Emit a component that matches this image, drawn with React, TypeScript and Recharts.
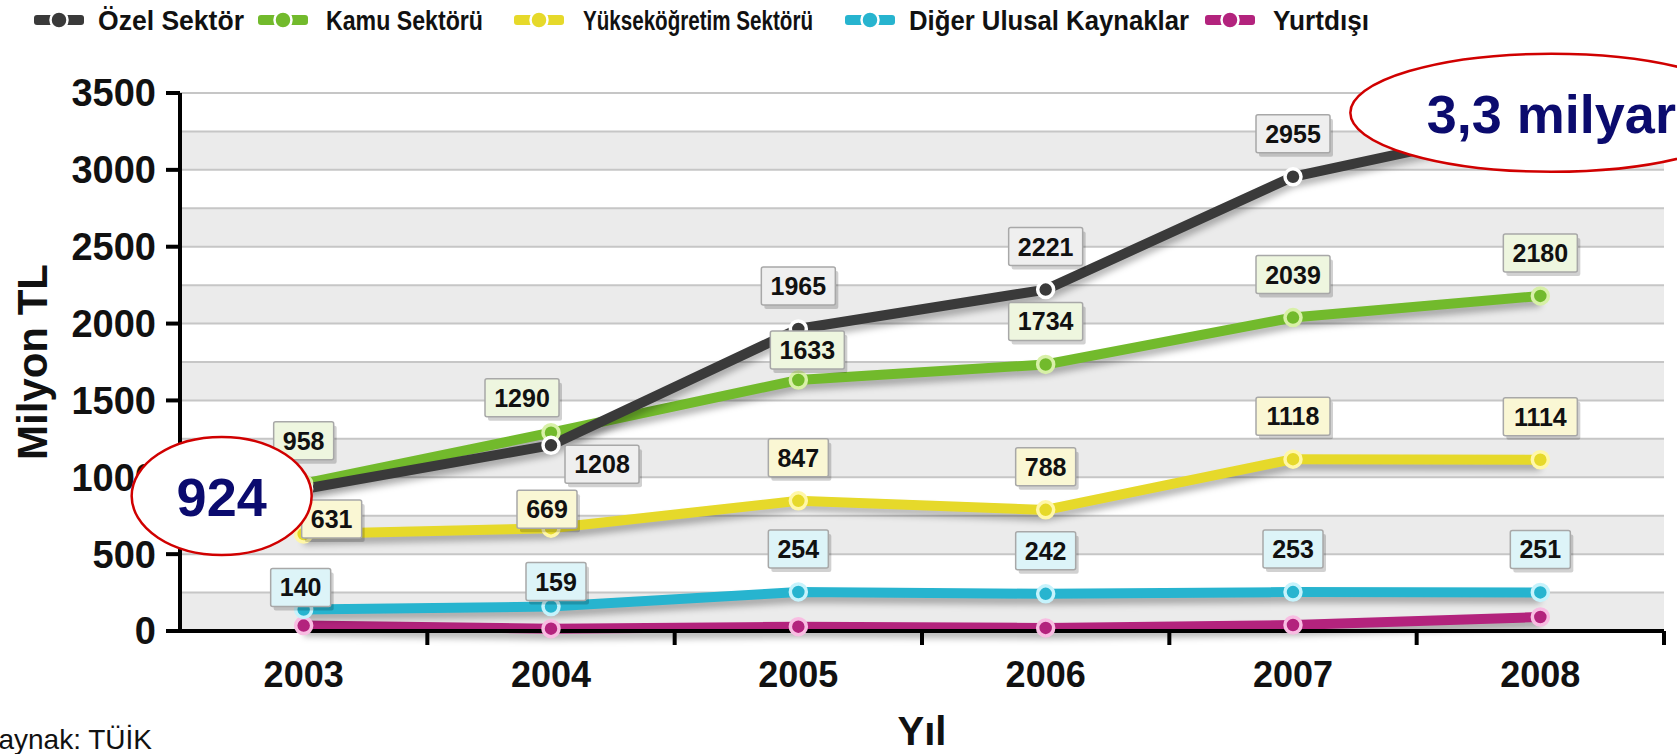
import React from 'react';
import { LineChart, Line, XAxis, YAxis, CartesianGrid, LabelList, Legend } from 'recharts';

// ---------- data ----------
const years = ['2003', '2004', '2005', '2006', '2007', '2008'];
const ozelSektor = [924, 1208, 1965, 2221, 2955, 3300];
const kamuSektoru = [958, 1290, 1633, 1734, 2039, 2180];
const yuksekogretim = [631, 669, 847, 788, 1118, 1114];
const digerUlusal = [140, 159, 254, 242, 253, 251];
const yurtdisi = [35, 15, 28, 20, 39, 91];
const yTicks = [0, 500, 1000, 1500, 2000, 2500, 3000, 3500];
const gridValues = [0, 250, 500, 750, 1000, 1250, 1500, 1750, 2000, 2250, 2500, 2750, 3000, 3250, 3500];
const seriesNames = ['Özel Sektör', 'Kamu Sektörü', 'Yükseköğretim Sektörü', 'Diğer Ulusal Kaynaklar', 'Yurtdışı'];
const ozelCallouts = ['924', '', '', '', '', '3,3 milyar'];
const sourceNote = 'Kaynak: TÜİK';
const yAxisTitle = 'Milyon TL';
const xAxisTitle = 'Yıl';

// ---------- styling / layout ----------
const FONT = '"Liberation Sans", Arial, Helvetica, sans-serif';

type Series = { key: string; name: string; color: string; ring: string; boxFill: string | null };
const series: Series[] = [
  { key: 'ozel', name: seriesNames[0], color: '#3a3a3a', ring: '#ffffff', boxFill: '#efefef' },
  { key: 'kamu', name: seriesNames[1], color: '#72ba2c', ring: '#d8f0a8', boxFill: '#eef6df' },
  { key: 'yuksek', name: seriesNames[2], color: '#e6d92a', ring: '#fff7a8', boxFill: '#faf7d4' },
  { key: 'diger', name: seriesNames[3], color: '#27b4cf', ring: '#c6f3fc', boxFill: '#ddf4f8' },
  { key: 'yurtdisi', name: seriesNames[4], color: '#b3237d', ring: '#f8bde2', boxFill: null },
];
const drawOrder = ['yurtdisi', 'diger', 'yuksek', 'kamu', 'ozel'];

// label placement tweaks (relative to point), default above the point
const labelShift: Record<string, Record<number, [number, number]>> = {
  ozel: { 1: [51, 19] },
  kamu: { 1: [-29, -35], 2: [9, -30] },
  yuksek: { 0: [28, -15], 1: [-4, -19] },
  diger: { 0: [-3, -22], 1: [5, -25] },
};
const calloutGeom: Record<number, [number, number, number, number]> = {
  0: [-82, 7, 90, 59],
  5: [11, -11, 201, 59],
};

const legendIconX = [59, 283, 539, 870, 1230];
const legendTextX = [98, 326, 583, 909, 1273];
const legendTextW = [146, 157, 230, 280, 96];

function ValueBox({ cx, cy, text, fill }: { cx: number; cy: number; text: string; fill: string }) {
  const w = text.length * 14 + 18;
  const h = 38;
  return (
    <g>
      <rect x={cx - w / 2 + 3} y={cy - h / 2 + 4} width={w} height={h} rx={2} fill="#000" opacity={0.18} />
      <rect x={cx - w / 2} y={cy - h / 2} width={w} height={h} rx={2} fill={fill} stroke="#a8a8a8" strokeWidth={1.5} />
      <text x={cx} y={cy + 9} textAnchor="middle" fontSize={25} fontWeight="bold" fill="#111" fontFamily={FONT}>
        {text}
      </text>
    </g>
  );
}

function Callout({ cx, cy, rx, ry, text }: { cx: number; cy: number; rx: number; ry: number; text: string }) {
  return (
    <g>
      <ellipse cx={cx} cy={cy} rx={rx} ry={ry} fill="#ffffff" stroke="#d00000" strokeWidth={2.5} />
      <text x={cx} y={cy + 20} textAnchor="middle" fontSize={54} fontWeight="bold" fill="#0b0b6e" fontFamily={FONT}>
        {text}
      </text>
    </g>
  );
}

const makeLabel = (s: Series) => (props: any) => {
  const index: number = props.index;
  const px = props.x ?? props.viewBox?.x;
  const py = props.y ?? props.viewBox?.y;
  if (px == null || py == null) return null;
  if (s.key === 'ozel' && ozelCallouts[index]) {
    const g = calloutGeom[index] || [0, 0, 90, 59];
    return <Callout cx={px + g[0]} cy={py + g[1]} rx={g[2]} ry={g[3]} text={ozelCallouts[index]} />;
  }
  if (!s.boxFill) return null;
  const shift = (labelShift[s.key] && labelShift[s.key][index]) || [0, -43];
  return <ValueBox cx={px + shift[0]} cy={py + shift[1]} text={String(props.value)} fill={s.boxFill} />;
};

function XTick(props: any) {
  const { x, y, payload } = props;
  const half = (payload && payload.offset) || (props.width ? props.width / years.length / 2 : 123.7);
  return (
    <g>
      <line x1={x + half} x2={x + half} y1={y - 29} y2={y - 15} stroke="#000" strokeWidth={4} />
      <text x={x} y={y + 27} textAnchor="middle" fontSize={36} fontWeight="bold" fill="#111" fontFamily={FONT}>
        {payload.value}
      </text>
    </g>
  );
}

function LegendSvg() {
  return (
    <svg width={1677} height={42} style={{ display: 'block' }}>
      {series.map((s, i) => (
        <g key={s.key}>
          <rect x={legendIconX[i] - 25} y={15} width={50} height={10} rx={3} fill={s.color} />
          <circle cx={legendIconX[i]} cy={20} r={8.5} fill={s.color} stroke="#ffffff" strokeWidth={2.5} />
          <text
            x={legendTextX[i]}
            y={30}
            fontSize={27}
            fontWeight="bold"
            fill="#111"
            fontFamily={FONT}
            textLength={legendTextW[i]}
            lengthAdjust="spacingAndGlyphs"
          >
            {s.name}
          </text>
        </g>
      ))}
    </svg>
  );
}

export default function App() {
  const data = years.map((year, i) => ({
    year,
    ozel: ozelSektor[i],
    kamu: kamuSektoru[i],
    yuksek: yuksekogretim[i],
    diger: digerUlusal[i],
    yurtdisi: yurtdisi[i],
  }));
  const byKey = (k: string) => series.find((s) => s.key === k) as Series;

  return (
    <div style={{ position: 'absolute', left: 0, top: 0, width: 1677, height: 754, background: '#fff', overflow: 'hidden' }}>
      <style>{`.shadowed-line .recharts-line-curve { filter: drop-shadow(0px 6px 3px rgba(0,0,0,0.28)); }`}</style>
      <LineChart width={1677} height={754} data={data} margin={{ top: 93, right: 13, bottom: 3, left: 0 }}>
        <CartesianGrid
          vertical={false}
          horizontalValues={gridValues}
          stroke="#c6c6c6"
          strokeWidth={2}
          horizontalFill={['#ffffff', '#ebebeb']}
          fillOpacity={1}
        />
        <XAxis
          dataKey="year"
          scale="band"
          interval={0}
          height={120}
          tickSize={14}
          tickMargin={15}
          tickLine={false}
          axisLine={{ stroke: '#000', strokeWidth: 4 }}
          tick={<XTick />}
          label={{
            value: xAxisTitle,
            position: 'insideBottom',
            offset: 6,
            style: { fontSize: 40, fontWeight: 'bold', fill: '#111', fontFamily: FONT },
          }}
        />
        <YAxis
          width={180}
          domain={[0, 3500]}
          ticks={yTicks}
          interval={0}
          tickSize={14}
          tickMargin={10}
          tickLine={{ stroke: '#000', strokeWidth: 4 }}
          axisLine={{ stroke: '#000', strokeWidth: 4 }}
          tick={{ fontSize: 38, fontWeight: 'bold', fill: '#111', fontFamily: FONT }}
          label={{
            content: (p: any) => {
              const vb = p.viewBox || { x: 0, y: 93, width: 180, height: 538 };
              const cx = vb.x + 32;
              const cy = vb.y + vb.height / 2;
              return (
                <text
                  x={cx}
                  y={cy}
                  transform={`rotate(-90, ${cx}, ${cy})`}
                  textAnchor="middle"
                  dominantBaseline="central"
                  fontSize={42}
                  fontWeight="bold"
                  fill="#111"
                  fontFamily={FONT}
                >
                  {yAxisTitle}
                </text>
              );
            },
          }}
        />
        <Legend
          layout="horizontal"
          verticalAlign="middle"
          align="center"
          wrapperStyle={{ top: 0, left: 0, width: 1677, height: 42 }}
          content={() => <LegendSvg />}
        />
        {drawOrder.map((k) => {
          const s = byKey(k);
          return (
            <Line
              key={k}
              className="shadowed-line"
              type="linear"
              dataKey={k}
              name={s.name}
              stroke={s.color}
              strokeWidth={10}
              dot={{ r: 8, fill: s.color, stroke: s.ring, strokeWidth: 3.5 }}
              activeDot={false}
              isAnimationActive={false}
            />
          );
        })}
        {drawOrder.map((k) => {
          const s = byKey(k);
          return (
            <Line
              key={`lbl-${k}`}
              dataKey={k}
              stroke="none"
              dot={false}
              activeDot={false}
              legendType="none"
              isAnimationActive={false}
            >
              <LabelList dataKey={k} content={makeLabel(s)} />
            </Line>
          );
        })}
      </LineChart>
      <div
        style={{
          position: 'absolute',
          right: 1677 - 152,
          top: 726,
          whiteSpace: 'nowrap',
          fontFamily: FONT,
          fontSize: 28,
          lineHeight: '28px',
          color: '#111',
        }}
      >
        {sourceNote}
      </div>
    </div>
  );
}
